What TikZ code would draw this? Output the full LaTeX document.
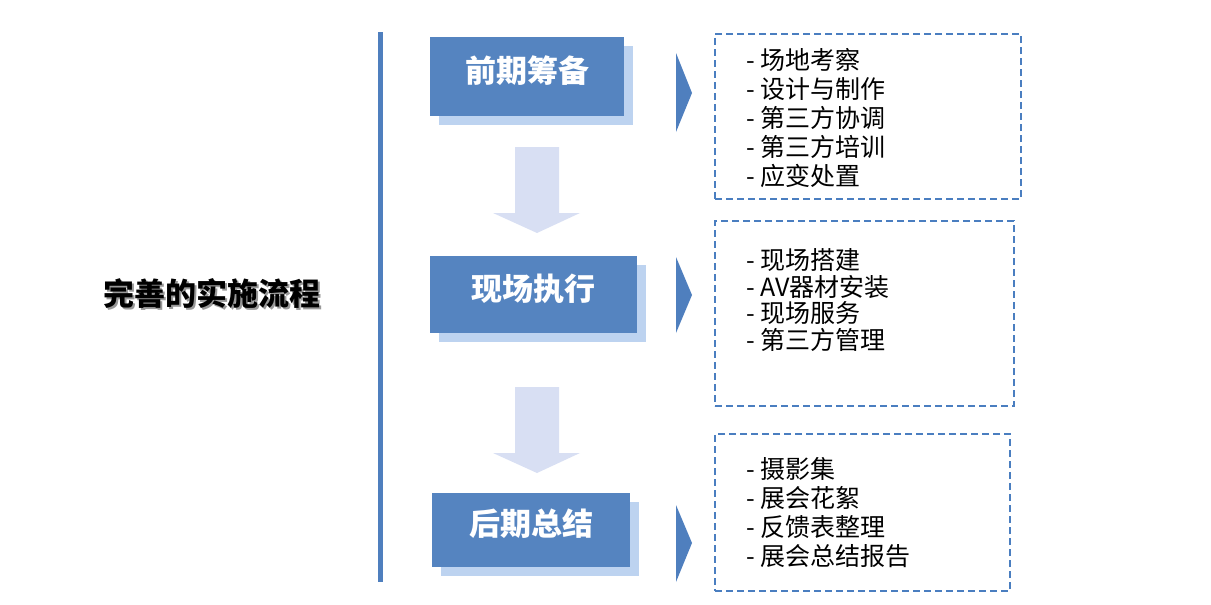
\documentclass[tikz,border=0pt]{standalone}
\usepackage{fontspec}
\setmainfont{Noto Sans CJK SC}
\usetikzlibrary{shadows}

\definecolor{stageblue}{HTML}{5584C0}
\definecolor{shadeblue}{HTML}{BDD3F0}
\definecolor{flowblue}{HTML}{D8DFF3}
\definecolor{tipblue}{HTML}{4F7FBE}
\definecolor{dashblue}{HTML}{4A7EC0}

\tikzset{
  stage/.style={fill=stageblue, text=white, inner sep=0pt,
    text height=26pt, text depth=15pt,
    font=\bfseries\fontsize{31}{36}\selectfont,
    drop shadow={shadow xshift=9pt, shadow yshift=-9pt, fill=shadeblue, opacity=1}},
  itembox/.style={draw=dashblue, line width=1.6pt, dash pattern=on 7pt off 4pt},
  items/.style={anchor=west, align=left, inner sep=0pt, text=black},
  title/.style={font=\bfseries\fontsize{31}{36}\selectfont}
}

\begin{document}
\begin{tikzpicture}[x=1pt, y=-1pt]
\useasboundingbox (0,0) rectangle (1211,605);
% left title
	\node[title, text=black!40] at (214,295) {完善的实施流程};
	\node[title] (flow) at (212,293) {完善的实施流程};
% vertical bar
	\draw[tipblue, line width=5pt] (380.5,32) -- (380.5,582);
% stages
	\node[stage, minimum width=194pt, minimum height=79pt] (prep) at (527,76.5) {前期筹备};
	\node[stage, minimum width=207pt, minimum height=77pt] (exec) at (533.5,294.5) {现场执行};
	\node[stage, minimum width=198pt, minimum height=74pt] (post) at (531,530) {后期总结};
% down arrows
	\foreach \t in {0,240}
		\fill[flowblue] (515,147+\t) -- (559,147+\t) -- (559,213+\t) -- (580,213+\t)
			-- (537,233+\t) -- (493,213+\t) -- (515,213+\t) -- cycle;
% pointers
	\fill[tipblue] (676,53) -- (692,93) -- (676,132) -- cycle;
	\fill[tipblue] (676,257) -- (692,295) -- (676,333) -- cycle;
	\fill[tipblue] (676,505) -- (692,543) -- (676,582) -- cycle;
% dashed boxes
	\node[itembox, minimum width=306pt, minimum height=165pt] (prepbox) at (868,116.5) {};
	\node[itembox, minimum width=299pt, minimum height=185pt] (execbox) at (864.5,313.5) {};
	\node[itembox, minimum width=295pt, minimum height=157pt] (postbox) at (862.5,512.5) {};
% item lists
	\node[items, font=\fontsize{25}{29}\selectfont] (preplist) at (746,118)
		{- 场地考察\\- 设计与制作\\- 第三方协调\\- 第三方培训\\- 应变处置};
	\node[items, font=\fontsize{25}{26.5}\selectfont] (execlist) at (746,300)
		{- 现场搭建\\- AV器材安装\\- 现场服务\\- 第三方管理};
	\node[items, font=\fontsize{25}{29}\selectfont] (postlist) at (746,513)
		{- 摄影集\\- 展会花絮\\- 反馈表整理\\- 展会总结报告};
\end{tikzpicture}
\end{document}
